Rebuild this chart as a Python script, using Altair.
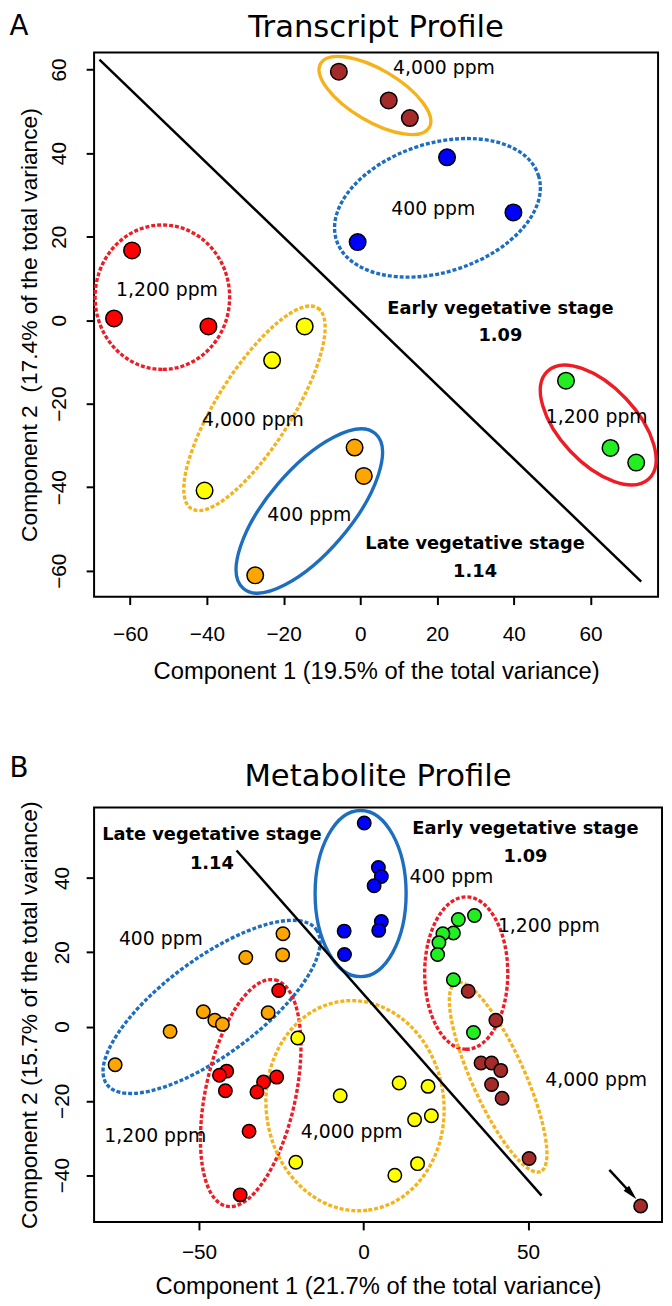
import altair as alt
import pandas as pd

# ---------------------------------------------------------------- colours
FILL = {"brown": "#A52A2A", "blue": "#0000FF", "red": "#FF0000",
        "yellow": "#FFFF00", "orange": "#FFA500", "green": "#22EE22"}
RING = {"gold": "#F5B21A", "blue": "#1E6EC0", "red": "#EE1C24"}

# ================================================================ Panel A
A_TITLE = "Transcript Profile"
A_LETTER = "A"
A_XTITLE = "Component 1 (19.5% of the total variance)"
A_YTITLE = "Component 2\u00a0 (17.4% of the total variance)"
A_X_DOMAIN = [-69.4, 77.6]
A_Y_DOMAIN = [-66.2, 64.1]
A_X_TICKS = [-60, -40, -20, 0, 20, 40, 60]
A_Y_TICKS = [-60, -40, -20, 0, 20, 40, 60]

A_PC1 = [-1.5, 0.9, -27.4, -59.5, -64.2, -39.6, -14.5, -23.0, -40.6,
         22.6, 39.9, -0.7, 53.6, 65.2, 71.9, -5.6, 7.4, 12.9]
A_PC2 = [-30.5, -37.3, -61.1, 16.7, 0.4, -1.5, -1.5, -9.6, -40.8,
         39.0, 25.8, 18.7, -14.5, -30.6, -34.1, 59.5, 52.6, 48.4]
A_GROUP = ["orange"] * 3 + ["red"] * 3 + ["yellow"] * 3 + ["blue"] * 3 + ["green"] * 3 + ["brown"] * 3

A_DIVIDER_X = [-68.0, 73.2]
A_DIVIDER_Y = [62.4, -62.6]

# ellipses: centre (data units), semi-axes (px), rotation (deg, clockwise), ring colour, dashed
A_ELL_CX = [3.8, 20.1, -51.6, -27.6, -13.3, 62.0]
A_ELL_CY = [53.8, 26.9, 5.5, -21.1, -45.7, -25.1]
A_ELL_A = [63.7, 107.2, 73.0, 119.8, 102.8, 74.7]
A_ELL_B = [26.2, 65.0, 68.0, 37.8, 41.9, 38.7]
A_ELL_ANG = [30.6, -17.8, 90.0, -57.8, -49.6, 46.7]
A_ELL_COL = ["gold", "blue", "red", "gold", "blue", "red"]
A_ELL_DASH = [False, True, True, True, False, False]

A_LAB_TEXT = ["4,000 ppm", "400 ppm", "1,200 ppm", "4,000 ppm", "1,200 ppm", "400 ppm"]
A_LAB_X = [21.8, 19.0, -50.4, -28.0, 61.6, -13.3]
A_LAB_Y = [60.3, 26.5, 7.2, -24.0, -23.2, -46.6]
A_BOLD_TEXT = ["Early vegetative stage", "1.09", "Late vegetative stage", "1.14"]
A_BOLD_X = [36.5, 36.5, 29.9, 29.9]
A_BOLD_Y = [2.6, -3.9, -53.7, -60.4]

# ================================================================ Panel B
B_TITLE = "Metabolite Profile"
B_LETTER = "B"
B_XTITLE = "Component 1 (21.7% of the total variance)"
B_YTITLE = "Component 2 (15.7% of the total variance)"
B_X_DOMAIN = [-81.9, 90.7]
B_Y_DOMAIN = [-52.6, 59.0]
B_X_TICKS = [-50, 0, 50]
B_Y_TICKS = [-40, -20, 0, 20, 40]

B_PC1 = [-24.5, -35.8, -24.6, -48.7, -45.2, -42.9, -29.0, -58.8, -75.5,
         -25.8, -41.6, -43.8, -42.0, -26.4, -30.4, -32.4, -34.8, -37.5,
         -20.0, -7.1, 10.8, 19.6, 20.6, 15.5, -20.6, 16.4, 9.5,
         0.2, 4.5, 5.4, 3.2, 5.4, 4.6, -5.9, -5.8,
         33.7, 28.8, 27.3, 24.1, 22.9, 22.5, 27.3, 33.4,
         31.8, 40.2, 35.7, 38.9, 41.7, 38.9, 42.1, 50.3, 84.2]
B_PC2 = [25.0, 18.6, 19.3, 4.0, 1.7, 0.6, 3.7, -1.3, -10.3,
         9.7, -12.0, -13.1, -17.3, -13.6, -14.9, -17.6, -28.2, -45.3,
         -3.1, -18.6, -15.2, -16.1, -24.0, -25.1, -36.5, -36.9, -40.0,
         54.8, 42.8, 40.4, 37.9, 28.3, 25.9, 25.7, 19.4,
         29.9, 28.8, 25.2, 25.0, 22.6, 19.4, 12.6, -1.6,
         9.5, 1.7, -9.8, -9.8, -11.8, -15.6, -19.3, -35.5, -48.3]
B_GROUP = (["orange"] * 9 + ["red"] * 9 + ["yellow"] * 9 + ["blue"] * 8
           + ["green"] * 8 + ["brown"] * 9)

B_DIVIDER_X = [-38.6, 54.1]
B_DIVIDER_Y = [47.4, -45.5]
B_ARROW_X = [74.7, 81.4]
B_ARROW_Y = [-38.6, -45.0]

B_ELL_CX = [-0.9, -46.2, -34.3, -2.6, 31.2, 40.9]
B_ELL_CY = [35.8, 5.3, -17.9, -21.3, 14.4, -13.6]
B_ELL_A = [84.0, 131.6, 116.9, 106.4, 77.0, 104.6]
B_ELL_B = [46.0, 48.6, 45.5, 89.8, 42.0, 26.7]
B_ELL_ANG = [90.0, -36.5, -77.9, 83.4, 90.0, 65.8]
B_ELL_COL = ["blue", "blue", "red", "gold", "red", "gold"]
B_ELL_DASH = [False, True, True, True, True, True]

B_LAB_TEXT = ["400 ppm", "1,200 ppm", "400 ppm", "1,200 ppm", "4,000 ppm", "4,000 ppm"]
B_LAB_X = [26.7, 56.3, -61.6, -63.3, -3.6, 70.7]
B_LAB_Y = [40.3, 27.0, 23.5, -29.4, -28.5, -14.3]
B_BOLD_TEXT = ["Late vegetative stage", "1.14", "Early vegetative stage", "1.09"]
B_BOLD_X = [-46.1, -46.1, 49.2, 49.2]
B_BOLD_Y = [51.5, 43.7, 53.2, 45.7]

# ---------------------------------------------------------------- helpers
AXIS_FONT = "Liberation Sans"
TEXT_FONT = "DejaVu Sans"
KAPPA = 0.5523
ARROW_HEAD = "M0,-1 L0.5,1 L-0.5,1 Z"


def ellipse_path(ratio):
    r, k = ratio, KAPPA
    return (f"M1,0 C1,{k*r:.4f} {k:.4f},{r:.4f} 0,{r:.4f} "
            f"C{-k:.4f},{r:.4f} -1,{k*r:.4f} -1,0 "
            f"C-1,{-k*r:.4f} {-k:.4f},{-r:.4f} 0,{-r:.4f} "
            f"C{k:.4f},{-r:.4f} 1,{-k*r:.4f} 1,0 Z")


def panel(pc1, pc2, group, ecx, ecy, ea, eb, eang, ecol, edash,
          lt, lx, ly, bt, bx, by, dvx, dvy, title, letter,
          xdom, ydom, xticks, yticks, xtitle, ytitle,
          w, h, ptsize, xlabpad, ylabpad, xtitley, ytitlex,
          title_dy, letter_dy, arrow=None):
    xs = alt.Scale(domain=xdom, nice=False, zero=False)
    ys = alt.Scale(domain=ydom, nice=False, zero=False)
    xaxis = alt.Axis(values=xticks, title=xtitle, grid=False, domain=False,
                     tickColor="black", tickWidth=2, tickSize=8,
                     labelFont=AXIS_FONT, labelFontSize=21, labelColor="black",
                     labelPadding=xlabpad, labelFlush=False, labelOverlap=False,
                     titleFont=AXIS_FONT, titleFontSize=24, titleFontWeight="normal",
                     titleColor="black", titleY=xtitley, titleBaseline="middle")
    yaxis = alt.Axis(values=yticks, title=ytitle, grid=False, domain=False,
                     tickColor="black", tickWidth=2, tickSize=8,
                     labelFont=AXIS_FONT, labelFontSize=21, labelColor="black",
                     labelAngle=270, labelAlign="center", labelBaseline="bottom",
                     labelPadding=ylabpad, labelFlush=False, labelOverlap=False,
                     titleFont=AXIS_FONT, titleFontSize=23, titleFontWeight="normal",
                     titleColor="black", titleAngle=270, titleX=ytitlex,
                     titleBaseline="middle")
    X = alt.X("x:Q", scale=xs, axis=xaxis)
    Y = alt.Y("y:Q", scale=ys, axis=yaxis)

    pts = pd.DataFrame({"x": pc1, "y": pc2, "fill": [FILL[g] for g in group]})
    ell = pd.DataFrame({
        "x": ecx, "y": ecy,
        "path": [ellipse_path(b / a) for a, b in zip(ea, eb)],
        "size": [(2 * a) ** 2 for a in ea],
        "angle": [g % 360 for g in eang],
        "stroke": [RING[c] for c in ecol],
        "dash": edash,
    })
    labs = pd.DataFrame({"x": lx, "y": ly, "t": lt})
    bolds = pd.DataFrame({"x": bx, "y": by, "t": bt})
    div = pd.DataFrame({"x": dvx, "y": dvy})

    def ell_layer(df, dashed):
        kw = dict(filled=False, opacity=1, strokeWidth=3.4)
        if dashed:
            kw["strokeDash"] = [4, 2]
        return alt.Chart(df).mark_point(**kw).encode(
            x=X, y=Y,
            shape=alt.Shape("path:N", scale=None),
            size=alt.Size("size:Q", scale=None),
            angle=alt.Angle("angle:Q", scale=None),
            stroke=alt.Stroke("stroke:N", scale=None),
        )

    layers = []
    solid = ell[~ell["dash"]].drop(columns="dash")
    dashed = ell[ell["dash"]].drop(columns="dash")
    if len(solid):
        layers.append(ell_layer(solid, False))
    if len(dashed):
        layers.append(ell_layer(dashed, True))
    layers.append(alt.Chart(div).mark_line(color="black", strokeWidth=2.5).encode(x=X, y=Y))
    if arrow is not None:
        ax_, ay_ = arrow
        adf = pd.DataFrame({"x": ax_, "y": ay_})
        layers.append(alt.Chart(adf).mark_line(color="black", strokeWidth=2.5).encode(x=X, y=Y))
        layers.append(alt.Chart(adf.tail(1)).mark_point(
            shape=ARROW_HEAD, filled=True, color="black", opacity=1,
            size=225, angle=137).encode(x=X, y=Y))
    layers.append(alt.Chart(pts).mark_circle(
        size=ptsize, opacity=1, stroke="black", strokeWidth=1.5).encode(
        x=X, y=Y, fill=alt.Fill("fill:N", scale=None)))
    layers.append(alt.Chart(labs).mark_text(
        font=TEXT_FONT, fontSize=19, color="black", baseline="middle").encode(
        x=X, y=Y, text="t:N"))
    layers.append(alt.Chart(bolds).mark_text(
        font=TEXT_FONT, fontSize=18, fontWeight="bold", color="black",
        baseline="middle").encode(x=X, y=Y, text="t:N"))
    layers.append(alt.Chart(pd.DataFrame({"t": [title]})).mark_text(
        font=TEXT_FONT, fontSize=31, color="black", align="center",
        baseline="top").encode(
        text="t:N", x=alt.value(w / 2), y=alt.value(title_dy)))
    layers.append(alt.Chart(pd.DataFrame({"t": [letter]})).mark_text(
        font=TEXT_FONT, fontSize=28, color="black", align="left",
        baseline="top").encode(
        text="t:N", x=alt.value(-85.5), y=alt.value(letter_dy)))
    return alt.layer(*layers).properties(width=w, height=h)


chart_a = panel(A_PC1, A_PC2, A_GROUP, A_ELL_CX, A_ELL_CY, A_ELL_A, A_ELL_B,
                A_ELL_ANG, A_ELL_COL, A_ELL_DASH, A_LAB_TEXT, A_LAB_X, A_LAB_Y,
                A_BOLD_TEXT, A_BOLD_X, A_BOLD_Y, A_DIVIDER_X, A_DIVIDER_Y,
                A_TITLE, A_LETTER, A_X_DOMAIN, A_Y_DOMAIN, A_X_TICKS, A_Y_TICKS,
                A_XTITLE, A_YTITLE, w=570, h=550, ptsize=280,
                xlabpad=19, ylabpad=17, xtitley=76, ytitlex=-65.6,
                title_dy=-39.7, letter_dy=-39.6)

chart_b = panel(B_PC1, B_PC2, B_GROUP, B_ELL_CX, B_ELL_CY, B_ELL_A, B_ELL_B,
                B_ELL_ANG, B_ELL_COL, B_ELL_DASH, B_LAB_TEXT, B_LAB_X, B_LAB_Y,
                B_BOLD_TEXT, B_BOLD_X, B_BOLD_Y, B_DIVIDER_X, B_DIVIDER_Y,
                B_TITLE, B_LETTER, B_X_DOMAIN, B_Y_DOMAIN, B_X_TICKS, B_Y_TICKS,
                B_XTITLE, B_YTITLE, w=574, h=419, ptsize=185,
                xlabpad=12, ylabpad=14, xtitley=65, ytitlex=-65.6,
                title_dy=-45.9, letter_dy=-53.0,
                arrow=(B_ARROW_X, B_ARROW_Y))

chart = alt.vconcat(chart_a, chart_b, spacing=70).properties(
    padding={"top": -4, "left": 0, "right": 0, "bottom": 0}
).configure_view(stroke="black", strokeWidth=2)

chart.save("out.html", embed_options={"renderer": "svg", "actions": False})
